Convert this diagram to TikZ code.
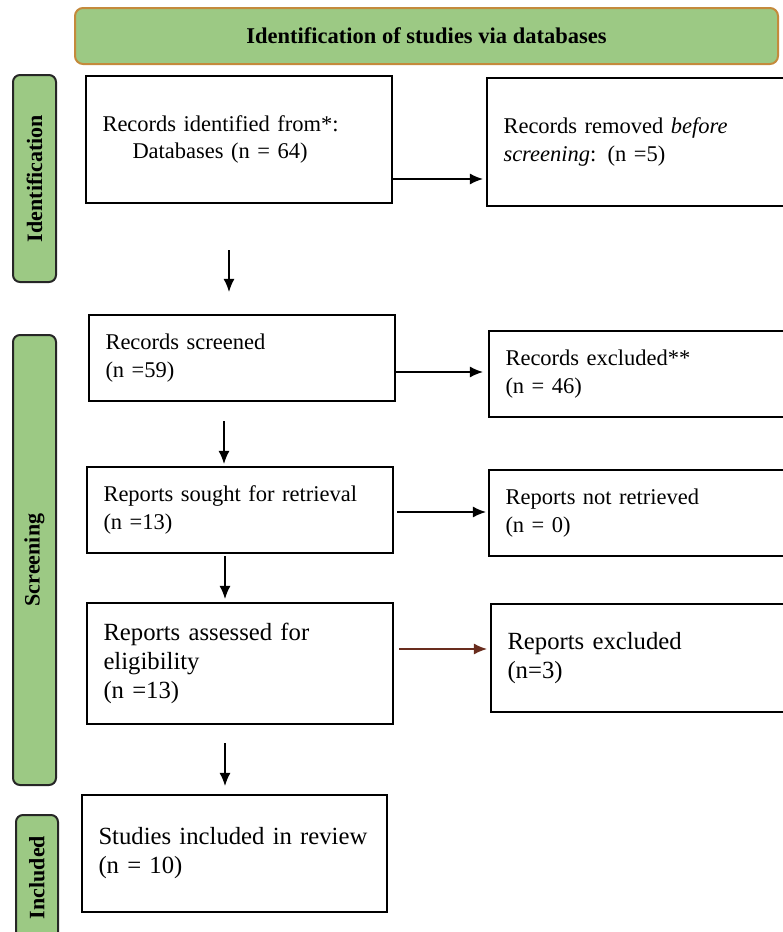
\documentclass[tikz,border=0pt]{standalone}
\usepackage{fontspec}
\setmainfont{Liberation Serif}
\usetikzlibrary{arrows.meta,calc}
\definecolor{phasegreen}{RGB}{156,201,132}
\definecolor{headedge}{RGB}{196,138,60}
\definecolor{linkbrown}{RGB}{105,45,30}
\tikzstyle{phase} = [rectangle, rounded corners=8pt, draw=headedge, line width=2pt, fill=phasegreen, font=\fontsize{22.5}{27}\selectfont\bfseries]
\tikzstyle{stage} = [rectangle, rounded corners=7pt, draw=black!85, line width=2pt, fill=phasegreen, rotate=90, font=\fontsize{22}{26}\selectfont\bfseries]
\tikzstyle{record} = [rectangle, draw=black, line width=2.2pt, align=left, inner xsep=16.5pt, inner ysep=2pt, font=\fontsize{22.5}{27.5}\selectfont]
\tikzstyle{recordlg} = [record, font=\fontsize{24.7}{29}\selectfont]
\tikzstyle{arrow} = [line width=1.3pt,->,>={Latex[length=13pt,width=11pt]}]

\begin{document}
\begin{tikzpicture}[x=1pt,y=-1pt]
    \useasboundingbox (0,0) rectangle (783,932);
    \clip (0,0) rectangle (783,932);
    \node (head)[phase, minimum width=703, minimum height=56] at (426.5,36) {Identification of studies via databases};
    \node (idbar)[stage, minimum width=207, minimum height=43] at (34.5,178.5) {Identification};
    \node (scrbar)[stage, minimum width=450, minimum height=43] at (34.5,560) {Screening};
    \node (incbar)[stage, minimum width=125, minimum height=42] at (37,877.5) {Included};
    \node (ident)[record, text width=273pt, minimum height=127] at (239,139.5) {Records identified from*:\\\hspace*{30pt}Databases (n = 64)};
    \node (removed)[record, text width=290pt, minimum height=128] at (648.5,142) {Records removed \textit{before}\\\textit{screening}: (n =5)};
    \node (screened)[record, text width=273pt, minimum height=86] at (242,358) {Records screened\\(n =59)};
    \node (excluded)[record, text width=288pt, minimum height=86] at (649.5,374) {Records excluded**\\(n = 46)};
    \node (sought)[record, text width=273pt, minimum height=86] at (240,510) {Reports sought for retrieval\\(n =13)};
    \node (notret)[record, text width=288pt, minimum height=86] at (649.5,513) {Reports not retrieved\\(n = 0)};
    \node (assessed)[recordlg, text width=273pt, minimum height=121] at (240,663.5) {Reports assessed for\\eligibility\\(n =13)};
    \node (repexcl)[recordlg, text width=286pt, minimum height=108] at (650.5,658) {Reports excluded\\(n=3)};
    \node (included)[recordlg, text width=272pt, minimum height=117] at (234.5,853.5) {Studies included in review\\(n = 10)};
    \coordinate (row1) at (0,179);
    \coordinate (row2) at (0,372);
    \coordinate (row3) at (0,512);
    \coordinate (row4) at (0,649);
    \coordinate (col1) at (229,0);
    \coordinate (col2) at (224,0);
    \coordinate (col3) at (225,0);
    \draw [arrow, shorten >=3pt] (ident.east |- row1) -- (removed.west |- row1);
    \draw [arrow, shorten >=5pt] (screened.east |- row2) -- (excluded.west |- row2);
    \draw [arrow, shorten <=3pt, shorten >=2pt] (sought.east |- row3) -- (notret.west |- row3);
    \draw [arrow, shorten <=5pt, shorten >=3pt, draw=linkbrown] (assessed.east |- row4) -- (repexcl.west |- row4);
    \draw [arrow, shorten <=46pt, shorten >=22pt] (ident.south -| col1) -- (screened.north -| col1);
    \draw [arrow, shorten <=19pt, shorten >=2pt] (screened.south -| col2) -- (sought.north -| col2);
    \draw [arrow, shorten <=2pt, shorten >=3pt] (sought.south -| col3) -- (assessed.north -| col3);
    \draw [arrow, shorten <=18pt, shorten >=8pt] (assessed.south -| col3) -- (included.north -| col3);
\end{tikzpicture}
\end{document}
